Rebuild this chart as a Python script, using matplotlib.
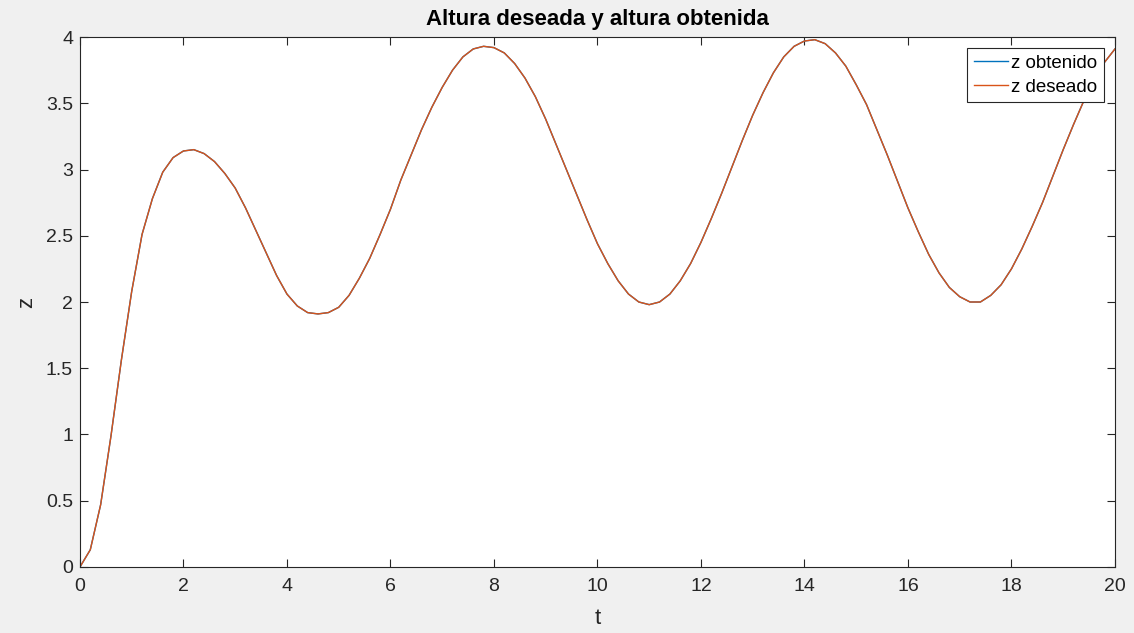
import matplotlib
matplotlib.use("Agg")
import matplotlib.pyplot as plt
import numpy as np

plt.rcParams['font.family'] = ['Liberation Sans', 'DejaVu Sans']

# time samples (s), read every 0.2 s
t = np.arange(0, 20.001, 0.2)

# z values
z_deseado = [
    0.00, 0.13, 0.47, 0.99, 1.56, 2.08, 2.51, 2.78, 2.98, 3.09,
    3.14, 3.15, 3.12, 3.06, 2.97, 2.86, 2.71, 2.54, 2.37, 2.20,
    2.06, 1.97, 1.92, 1.91, 1.92, 1.96, 2.05, 2.18, 2.33, 2.51,
    2.70, 2.92, 3.11, 3.30, 3.47, 3.62, 3.75, 3.85, 3.91, 3.93,
    3.92, 3.88, 3.80, 3.69, 3.55, 3.38, 3.19, 3.00, 2.81, 2.62,
    2.44, 2.29, 2.16, 2.06, 2.00, 1.98, 2.00, 2.06, 2.16, 2.29,
    2.45, 2.63, 2.82, 3.02, 3.22, 3.41, 3.58, 3.73, 3.85, 3.93,
    3.97, 3.98, 3.95, 3.88, 3.78, 3.64, 3.49, 3.30, 3.11, 2.91,
    2.71, 2.53, 2.36, 2.22, 2.11, 2.04, 2.00, 2.00, 2.05, 2.13,
    2.25, 2.40, 2.57, 2.75, 2.95, 3.15, 3.34, 3.52, 3.68, 3.81,
    3.91,
]
z_obtenido = list(z_deseado)

fig = plt.figure(figsize=(11.34, 6.33), dpi=100, facecolor='#F0F0F0')
ax = fig.add_axes([0.0705, 0.1043, 0.9127, 0.8372])

ax.plot(t, z_obtenido, color='#0072BD', lw=1.0, label='z obtenido')
ax.plot(t, z_deseado, color='#D95319', lw=1.0, label='z deseado')

ax.set_xlim(0, 20)
ax.set_ylim(0, 4)
ax.set_xticks(np.arange(0, 21, 2))
ax.set_yticks(np.arange(0, 4.01, 0.5))
ax.set_yticklabels(['0', '0.5', '1', '1.5', '2', '2.5', '3', '3.5', '4'])

ax.tick_params(direction='in', top=True, right=True, length=6, width=0.8,
               color='#262626', labelcolor='#262626', labelsize=14)
ax.tick_params(axis='x', pad=8)
ax.tick_params(axis='y', pad=5)
for s in ax.spines.values():
    s.set_color('#262626')
    s.set_linewidth(0.8)

ax.set_title('Altura deseada y altura obtenida', fontsize=16, fontweight='bold', pad=9)
ax.set_xlabel('t', fontsize=16, color='#262626', labelpad=9)
ax.set_ylabel('z', fontsize=16, color='#262626', labelpad=6)

leg = ax.legend(loc='upper right', fontsize=13.5, frameon=True, fancybox=False,
                edgecolor='#262626', framealpha=1, handlelength=1.85,
                borderpad=0.35, labelspacing=0.35, handletextpad=0.15,
                borderaxespad=0.6)
leg.get_frame().set_linewidth(0.8)

fig.savefig('out.png', dpi=100, facecolor=fig.get_facecolor())
